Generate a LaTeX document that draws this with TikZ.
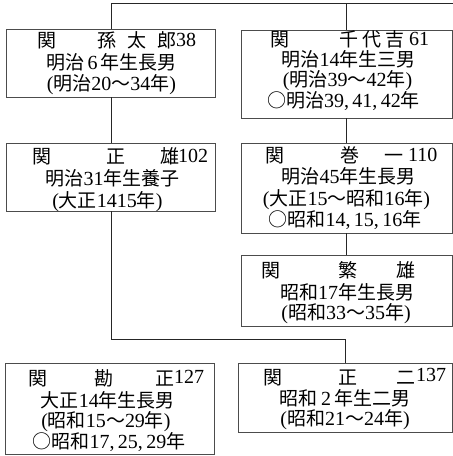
\documentclass[tikz,border=0pt]{standalone}
\usepackage{fontspec}
\setmainfont{Liberation Serif}
\newfontfamily\jpfont{Noto Sans CJK JP}
\newcommand\jj[1]{{\jpfont\fontsize{19}{22}\selectfont #1}}
\begin{document}
\begin{tikzpicture}[x=1pt,y=-1pt,
  famibox/.style={draw=black!70, line width=0.6pt, rectangle, inner sep=0pt},
  txt/.style={inner sep=0pt, anchor=base, font=\fontsize{20}{22}\selectfont},
  numw/.style={inner sep=0pt, anchor=base west, font=\fontsize{20}{22}\selectfont},
  conn/.style={draw=black!85, line width=0.8pt}]
\useasboundingbox (0,0) rectangle (453,456);

% boxes
\node[famibox, minimum width=209pt, minimum height=68pt] (b1) at (111,63) {};
\node[famibox, minimum width=211pt, minimum height=88pt] (b2) at (346.5,74) {};
\node[famibox, minimum width=209pt, minimum height=68pt] (b3) at (111,177) {};
\node[famibox, minimum width=211pt, minimum height=90pt] (b4) at (346.5,188) {};
\node[famibox, minimum width=211pt, minimum height=71pt] (b5) at (346.5,290.5) {};
\node[famibox, minimum width=209pt, minimum height=91pt] (b6) at (109.5,408.5) {};
\node[famibox, minimum width=214pt, minimum height=69pt] (b7) at (345,397.5) {};

% box 1
\node[txt] (b1n1) at (47,47) {\jj{関}};
\node[txt] (b1n2) at (107,47) {\jj{孫}};
\node[txt] (b1n3) at (137,47) {\jj{太}};
\node[txt] (b1n4) at (167,47) {\jj{郎}};
\node[numw] (b1n5) at (176,46) {38};
\node[txt] (b1l2) at (111.5,69) {\jj{明治}\,6\,\jj{年生長男}};
\node[txt] (b1l3) at (111.5,90) {(\jj{明治}20\jj{〜}34\jj{年})};

% box 2
\node[txt] (b2n1) at (280,46) {\jj{関}};
\node[txt] (b2n2) at (349,46) {\jj{千}};
\node[txt] (b2n3) at (372,46) {\jj{代}};
\node[txt] (b2n4) at (395,46) {\jj{吉}};
\node[numw] (b2n5) at (409,45) {61};
\node[txt] (b2l2) at (348.5,66) {\jj{明治}14\jj{年生三男}};
\node[txt] (b2l3) at (347.5,86) {(\jj{明治}39\jj{〜}42\jj{年})};
\node[txt] (b2l4) at (343.5,107) {\jj{○明治}39,\,41,\,42\jj{年}};

% box 3
\node[txt] (b3n1) at (41.5,163) {\jj{関}};
\node[txt] (b3n2) at (116,163) {\jj{正}};
\node[txt] (b3n3) at (170,163) {\jj{雄}};
\node[numw] (b3n4) at (178,162) {102};
\node[txt] (b3l2) at (112.5,185) {\jj{明治}31\jj{年生養子}};
\node[txt] (b3l3) at (107.5,207) {(\jj{大正}1415\jj{年})};

% box 4
\node[txt] (b4n1) at (275,162) {\jj{関}};
\node[txt] (b4n2) at (350,162) {\jj{巻}};
\node[txt] (b4n3) at (394,162) {\jj{一}};
\node[numw] (b4n4) at (408,161) {110};
\node[txt] (b4l2) at (348.5,183) {\jj{明治}45\jj{年生長男}};
\node[txt] (b4l3) at (346.5,205) {(\jj{大正}15\jj{〜昭和}16\jj{年})};
\node[txt] (b4l4) at (345,226) {\jj{○昭和}14,\,15,\,16\jj{年}};

% box 5
\node[txt] (b5n1) at (271,277) {\jj{関}};
\node[txt] (b5n2) at (348,277) {\jj{繁}};
\node[txt] (b5n3) at (406,277) {\jj{雄}};
\node[txt] (b5l2) at (347,299) {\jj{昭和}17\jj{年生長男}};
\node[txt] (b5l3) at (346,319) {(\jj{昭和}33\jj{〜}35\jj{年})};

% box 6
\node[txt] (b6n1) at (38,385) {\jj{関}};
\node[txt] (b6n2) at (104,385) {\jj{勘}};
\node[txt] (b6n3) at (165,385) {\jj{正}};
\node[numw] (b6n4) at (174,383) {127};
\node[txt] (b6l2) at (108,407) {\jj{大正}14\jj{年生長男}};
\node[txt] (b6l3) at (106,427) {(\jj{昭和}15\jj{〜}29\jj{年})};
\node[txt] (b6l4) at (109,448) {\jj{○昭和}17,\,25,\,29\jj{年}};

% box 7
\node[txt] (b7n1) at (273,384) {\jj{関}};
\node[txt] (b7n2) at (348,384) {\jj{正}};
\node[txt] (b7n3) at (406,384) {\jj{二}};
\node[numw] (b7n4) at (416,381) {137};
\node[txt] (b7l2) at (345,405) {\jj{昭和}\,2\,\jj{年生二男}};
\node[txt] (b7l3) at (345,425) {(\jj{昭和}21\jj{〜}24\jj{年})};

% connectors
\coordinate (topr) at (453,3);
\coordinate (jn) at (345,339);
\draw[conn] (b1.north) |- (topr);
\draw[conn] (b2.north) -- (b2.north |- topr);
\draw[conn] (b1.south) -- (b3.north);
\draw[conn] (b2.south) -- (b4.north);
\draw[conn] (b4.south) -- (b5.north);
\draw[conn] (b3.south) |- (jn) -- (b7.north);
\end{tikzpicture}
\end{document}
